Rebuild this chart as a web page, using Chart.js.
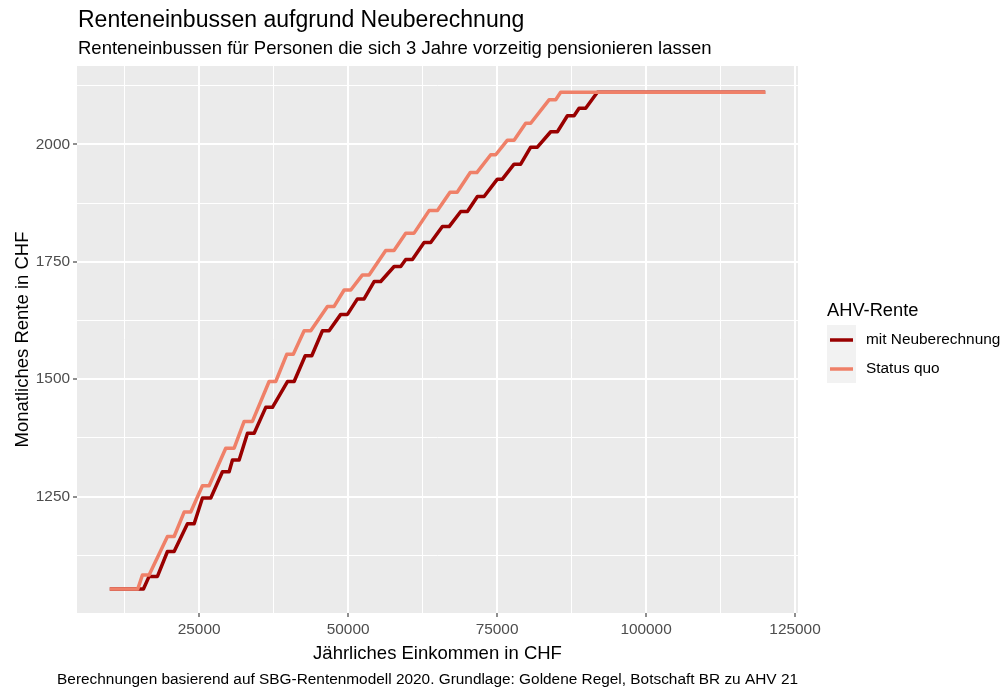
<!DOCTYPE html>
<html lang="de"><head>
<meta charset="utf-8">
<title>Renteneinbussen aufgrund Neuberechnung</title>
<style type="text/css">
body { margin:0; background-color:#ffffff; }
#chart1 { width:1003px; height:688px; }
</style>
<script src="https://cdn.jsdelivr.net/npm/chart.js"></script>
<script>
// Plateaus der Rentenstufen: Einkommen von / bis und Rente (CHF/Monat)
sqFrom  = [10000,15480,19680,22480,25550,29460,32550,36740,39700,42620,46530,49330,52400,56310,59670,63590,67100,70500,73930,76730,79800,83720,85670];
sqTo    = [14700,16600,20800,23590,26680,30870,33940,37850,40800,43730,47650,50450,53520,57700,61070,64990,68300,71600,74770,77850,80640,84840,120000];
sqRente = [1053,1083,1165,1217,1273,1353,1410,1495,1553,1603,1655,1690,1722,1774,1811,1859,1898,1940,1978,2009,2045,2095,2111];

neuFrom  = [10000,16600,19680,23040,25550,28910,30590,33110,36180,39820,42800,45690,48760,51560,54360,57720,59670,62750,65820,68900,71700,75050,77850,80640,84000,86800,88760,91830];
neuTo    = [15650,18000,20800,24160,26950,30030,31710,34230,37300,40940,43900,46810,49890,52680,55470,58830,60790,63860,66950,70020,72820,75890,78960,81760,85120,87920,89870,120000];
neuRente = [1053,1080,1133,1192,1247,1303,1328,1385,1440,1495,1550,1603,1638,1671,1708,1740,1755,1791,1825,1857,1889,1926,1958,1994,2027,2061,2077,2111];

xBreaks = [25000,50000,75000,100000,125000];
xMinor  = [12500,37500,62500,87500,112500];
yBreaks = [1250,1500,1750,2000];
yMinor  = [1125,1375,1625,1875,2125];

colNeu = '#990000';
colSQ  = '#EF8068';
fontName = '"Liberation Sans", Arial, sans-serif';

function toPoints(from,to,rente) {
  pts=[];
  for (i=0;i<from.length;i++) { pts.push({x:from[i],y:rente[i]}); pts.push({x:to[i],y:rente[i]}); }
  return pts; }

ggPlugin={id:'ggPlugin',
  beforeDraw:function(chart) {
    c=chart.ctx; a=chart.chartArea;
    c.save(); c.fillStyle='#EBEBEB'; c.fillRect(a.left,a.top,a.right-a.left,a.bottom-a.top); c.restore(); },
  afterDraw:function(chart) {
    c=chart.ctx; a=chart.chartArea;
    c.save(); c.fillStyle='#000000'; c.textBaseline='alphabetic';
    c.textAlign='left';
    c.font='23px '+fontName; c.fillText('Renteneinbussen aufgrund Neuberechnung',78,27);
    c.font='18.5px '+fontName; c.fillText('Renteneinbussen für Personen die sich 3 Jahre vorzeitig pensionieren lassen',78,54);
    c.textAlign='center';
    c.fillText('Jährliches Einkommen in CHF',(a.left+a.right)/2,659);
    c.save(); c.translate(28,(a.top+a.bottom)/2); c.rotate(-Math.PI/2);
    c.fillText('Monatliches Rente in CHF',0,0); c.restore();
    c.textAlign='right'; c.font='15.4px '+fontName;
    c.fillText('Berechnungen basierend auf SBG-Rentenmodell 2020. Grundlage: Goldene Regel, Botschaft BR zu AHV 21',a.right,684);
    // Legende
    c.textAlign='left'; c.font='18.3px '+fontName;
    c.fillText('AHV-Rente',827,316);
    c.fillStyle='#F2F2F2'; c.fillRect(827,325,29,58);
    ds=chart.data.datasets;
    for (k=0;k<ds.length;k++) {
      yy=340+k*29;
      c.strokeStyle=ds[k].borderColor; c.lineWidth=3.5; c.lineCap='butt';
      c.beginPath(); c.moveTo(830,yy); c.lineTo(853,yy); c.stroke();
      c.fillStyle='#000000'; c.font='15.4px '+fontName; c.textBaseline='middle';
      c.fillText(ds[k].label,866,yy); }
    c.restore(); }};

function initChart() {
  data={datasets:[{
    label:'mit Neuberechnung',data:toPoints(neuFrom,neuTo,neuRente),
    borderColor:colNeu,backgroundColor:colNeu,borderWidth:3.5,borderJoinStyle:'round',
    pointRadius:0,tension:0,fill:false,order:1},{
    label:'Status quo',data:toPoints(sqFrom,sqTo,sqRente),
    borderColor:colSQ,backgroundColor:colSQ,borderWidth:3.5,borderJoinStyle:'round',
    pointRadius:0,tension:0,fill:false,order:0}]};

  config={type:'line',data,plugins:[ggPlugin],options:{
    responsive:false,animation:false,
    layout:{padding:{top:66,right:205,left:0,bottom:0}},
    scales:{
      x:{type:'linear',min:4500,max:125500,
        afterFit:function(s){s.height=75;},
        afterBuildTicks:function(s){s.ticks=xMinor.concat(xBreaks).sort(function(p,q){return p-q;}).map(function(v){return {value:v};});},
        border:{display:false},
        grid:{color:'#FFFFFF',
          lineWidth:function(ctx){return (ctx.tick && xMinor.indexOf(ctx.tick.value)>=0)?1:2;},
          tickColor:function(ctx){return (ctx.tick && xBreaks.indexOf(ctx.tick.value)>=0)?'#333333':'rgba(0,0,0,0)';},
          tickWidth:1.1,tickLength:4,drawTicks:true},
        ticks:{autoSkip:false,maxRotation:0,padding:4,color:'#4D4D4D',font:{family:fontName,size:15.4},
          callback:function(v){return xBreaks.indexOf(v)>=0?String(v):'';}}},
      y:{type:'linear',min:1002,max:2167,
        afterFit:function(s){s.width=77;},
        afterBuildTicks:function(s){s.ticks=yMinor.concat(yBreaks).sort(function(p,q){return p-q;}).map(function(v){return {value:v};});},
        border:{display:false},
        grid:{color:'#FFFFFF',
          lineWidth:function(ctx){return (ctx.tick && yMinor.indexOf(ctx.tick.value)>=0)?1:2;},
          tickColor:function(ctx){return (ctx.tick && yBreaks.indexOf(ctx.tick.value)>=0)?'#333333':'rgba(0,0,0,0)';},
          tickWidth:1.1,tickLength:4,drawTicks:true},
        ticks:{autoSkip:false,padding:3,color:'#4D4D4D',font:{family:fontName,size:15.4},
          callback:function(v){return yBreaks.indexOf(v)>=0?String(v):'';}}}},
    plugins:{legend:{display:false},tooltip:{enabled:false}}}};

  myChart=new Chart(document.getElementById('myChart'),config); }
</script></head>
<body onload="initChart();">
<div id="chart1"><canvas id="myChart" width="1003" height="688"></canvas></div>
</body></html>
